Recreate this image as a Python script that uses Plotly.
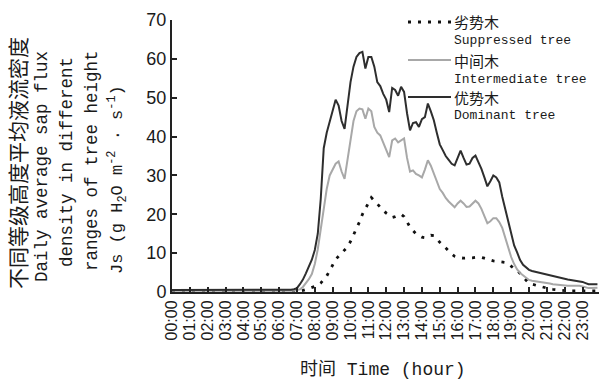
import plotly.graph_objects as go

# ---------------- data (10-min sampling, 144 points per series) ----------------
hour_labels = ["00:00", "01:00", "02:00", "03:00", "04:00", "05:00", "06:00", "07:00",
               "08:00", "09:00", "10:00", "11:00", "12:00", "13:00", "14:00", "15:00",
               "16:00", "17:00", "18:00", "19:00", "20:00", "21:00", "22:00", "23:00"]

dominant = [
    0.5, 0.5, 0.5, 0.5, 0.5, 0.5,   # 00
    0.5, 0.5, 0.5, 0.5, 0.5, 0.5,   # 01
    0.5, 0.5, 0.5, 0.5, 0.5, 0.5,   # 02
    0.5, 0.5, 0.5, 0.5, 0.5, 0.5,   # 03
    0.5, 0.5, 0.5, 0.5, 0.5, 0.5,   # 04
    0.5, 0.5, 0.5, 0.5, 0.5, 0.5,   # 05
    0.5, 0.5, 0.5, 0.5, 0.6, 0.7,   # 06
    1.0, 2.0, 3.2, 4.8, 6.5, 8.3,   # 07
    10.8, 15, 24, 37, 41, 44,       # 08
    47, 49.5, 48, 44, 42, 48,       # 09
    54, 58, 60.5, 61.5, 61.8, 57.5, # 10
    60.5, 60.5, 58, 54, 53, 51,     # 11
    49.5, 46.3, 52.5, 52, 50.5, 52.8,  # 12
    51.5, 46, 41.6, 43.5, 43.7, 42.5,  # 13
    44.5, 45, 48.5, 46.5, 44.2, 41,    # 14
    38, 36.5, 35, 34, 33, 32.6,        # 15
    34.5, 36.4, 34.5, 32.8, 33, 34.5,  # 16
    35.1, 33.5, 31.7, 29.5, 27.2, 28.5,  # 17
    30, 29.5, 28.2, 24.5, 21.5, 18.3,  # 18
    15, 12, 10.2, 8.2, 7, 6.4,         # 19
    5.7, 5.4, 5.2, 5.0, 4.9, 4.7,      # 20
    4.5, 4.2, 4.0, 3.8, 3.6, 3.4,      # 21
    3.3, 3.2, 3.1, 3.0, 2.9, 2.8,      # 22
    2.6, 2.3, 2.0, 2.0, 2.0, 2.0,      # 23
]

intermediate = [
    0.3, 0.3, 0.3, 0.3, 0.3, 0.3,   # 00
    0.3, 0.3, 0.3, 0.3, 0.3, 0.3,   # 01
    0.3, 0.3, 0.3, 0.3, 0.3, 0.3,   # 02
    0.3, 0.3, 0.3, 0.3, 0.3, 0.3,   # 03
    0.3, 0.3, 0.3, 0.3, 0.3, 0.3,   # 04
    0.3, 0.3, 0.3, 0.3, 0.3, 0.3,   # 05
    0.3, 0.3, 0.3, 0.3, 0.3, 0.3,   # 06
    0.5, 0.7, 1.3, 2.2, 3.3, 4.6,   # 07
    7.2, 11, 16, 21, 26.5, 30,      # 08
    31.5, 33, 33.6, 31, 29.1, 34,   # 09
    39.5, 44, 46.5, 47.2, 47, 44.6, # 10
    47.2, 46.5, 42.5, 41, 40.3, 38.5,  # 11
    36.5, 34.7, 39, 39.5, 38.5, 39,    # 12
    39.5, 34.5, 31, 31.3, 30.4, 30,    # 13
    29.5, 31.5, 33.9, 32.5, 30.4, 28.5,  # 14
    26.5, 25.5, 24.2, 23.3, 22.5, 21.8,  # 15
    22.8, 23.5, 22.8, 21.9, 22, 22.8,    # 16
    23.5, 22.8, 21.4, 19.5, 17.7, 18.2,  # 17
    19, 19, 18, 16.5, 14, 11.4,          # 18
    9, 7.2, 5.8, 4.9, 4.3, 3.8,          # 19
    3.1, 2.9, 2.8, 2.7, 2.6, 2.5,        # 20
    2.4, 2.2, 2.0, 1.9, 1.8, 1.7,        # 21
    1.6, 1.6, 1.6, 1.6, 1.6, 1.6,        # 22
    1.4, 1.2, 1.0, 1.0, 1.1, 1.1,        # 23
]

suppressed = [
    0.2, 0.2, 0.2, 0.2, 0.2, 0.2,   # 00
    0.2, 0.2, 0.2, 0.2, 0.2, 0.2,   # 01
    0.2, 0.2, 0.2, 0.2, 0.2, 0.2,   # 02
    0.2, 0.2, 0.2, 0.2, 0.2, 0.2,   # 03
    0.2, 0.2, 0.2, 0.2, 0.2, 0.2,   # 04
    0.2, 0.2, 0.2, 0.2, 0.2, 0.2,   # 05
    0.2, 0.2, 0.2, 0.2, 0.2, 0.2,   # 06
    0.2, 0.2, 0.4, 0.7, 0.9, 1.1,   # 07
    1.4, 1.7, 2.3, 3.2, 4.1, 5.5,   # 08
    7, 8.4, 9.2, 10, 10.8, 11.6,    # 09
    13, 14.6, 16, 18, 20, 21.5,     # 10
    23, 24.3, 23.5, 22.6, 21.7, 21, # 11
    20.3, 19.7, 19.2, 19.4, 19.8, 20,  # 12
    19.4, 18, 16.7, 15.8, 15, 14.5,    # 13
    14.1, 14, 14.3, 14.6, 14.5, 13.6,  # 14
    12.8, 12.1, 11.3, 10.5, 9.8, 9.2,  # 15
    8.9, 8.8, 8.7, 8.7, 8.7, 8.8,      # 16
    8.9, 8.9, 8.9, 8.7, 8.4, 8.2,      # 17
    8, 7.9, 7.8, 7.7, 7.6, 7.3,        # 18
    6.6, 6, 5.6, 4.8, 3.8, 3.0,        # 19
    2.2, 2.0, 1.8, 1.6, 1.4, 1.1,      # 20
    0.9, 0.8, 0.7, 0.6, 0.5, 0.5,      # 21
    0.4, 0.3, 0.3, 0.3, 0.3, 0.3,      # 22
    0.3, 0.3, 0.3, 0.3, 0.3, 0.3,      # 23
]

# sample times in hours (every 10 minutes)
times = [i / 6 for i in range(len(dominant))]

# ---------------- layout geometry ----------------
W_FIG, H_FIG = 603, 382
L, R, T, B = 172, 599, 20, 292
PW, PH = R - L, B - T


def px(x):
    return (x - L) / PW


def py(y):
    return (B - y) / PH


MONO = "Liberation Mono, DejaVu Sans Mono, Noto Sans CJK SC"
CJK = "Noto Sans CJK SC"
SANS = "Liberation Sans, Arial"
TXT = "#1a1a1a"
DOT = dict(color="#111111", width=2.8, dash="3px,7px")

fig = go.Figure()
fig.add_trace(go.Scatter(x=times, y=suppressed, mode="lines", line=DOT,
                         name="劣势木 Suppressed tree", showlegend=False))
fig.add_trace(go.Scatter(x=times, y=intermediate, mode="lines",
                         line=dict(color="#a8a8a8", width=2),
                         name="中间木 Intermediate tree", showlegend=False))
fig.add_trace(go.Scatter(x=times, y=dominant, mode="lines",
                         line=dict(color="#2e2e2e", width=2),
                         name="优势木 Dominant tree", showlegend=False))

fig.update_layout(
    width=W_FIG, height=H_FIG,
    margin=dict(l=L, r=W_FIG - R, t=T, b=H_FIG - B, pad=0),
    paper_bgcolor="white", plot_bgcolor="white",
    xaxis=dict(range=[0, 23.92], tickvals=list(range(24)), ticktext=hour_labels,
               tickangle=-90, ticks="inside", ticklen=5, tickwidth=1.5, tickcolor="#222",
               showline=True, linecolor="#222", linewidth=2, showgrid=False, zeroline=False,
               tickfont=dict(family=SANS, size=16, color=TXT)),
    yaxis=dict(range=[0, 70], dtick=10, ticks="inside", ticklen=5, tickwidth=1.5,
               tickcolor="#222", showline=True, linecolor="#222", linewidth=2,
               showgrid=False, zeroline=False,
               tickfont=dict(family=SANS, size=18, color=TXT)),
)

ann = []
# y-axis title lines (rotated)
ytitle = [
    ("不同等级高度平均液流密度", 17, 163, CJK, 21),
    ("Daily average sap flux", 42, 167, MONO, 17.5),
    ("density in different", 67, 162, MONO, 17.5),
    ("ranges of tree height", 92, 161, MONO, 17.5),
    ("Js (g H<sub>2</sub>O m<sup>-2</sup> · s<sup>-1</sup>)", 117, 180, MONO, 17),
]
for text, cx, cy, fam, size in ytitle:
    ann.append(dict(text=text, x=px(cx), y=py(cy), xref="paper", yref="paper",
                    xanchor="center", yanchor="middle", textangle=-90, showarrow=False,
                    font=dict(family=fam, size=size, color=TXT)))
# x-axis title
ann.append(dict(text="时间 Time (hour)", x=px(383), y=py(369), xref="paper", yref="paper",
                xanchor="center", yanchor="middle", showarrow=False,
                font=dict(family=MONO, size=18, color=TXT)))

# custom legend
legend_items = [
    ("劣势木", "Suppressed tree", 22, DOT),
    ("中间木", "Intermediate tree", 60, dict(color="#a8a8a8", width=2)),
    ("优势木", "Dominant tree", 97, dict(color="#2e2e2e", width=2)),
]
shapes = []
for zh, en, yy, ln in legend_items:
    shapes.append(dict(type="line", xref="paper", yref="paper",
                       x0=px(408), x1=px(451), y0=py(yy), y1=py(yy), line=ln))
    ann.append(dict(text=zh, x=px(452), y=py(yy), xref="paper", yref="paper",
                    xanchor="left", yanchor="middle", showarrow=False,
                    font=dict(family=CJK, size=15, color=TXT)))
    ann.append(dict(text=en, x=px(452), y=py(yy + 19), xref="paper", yref="paper",
                    xanchor="left", yanchor="middle", showarrow=False,
                    font=dict(family=MONO, size=13, color=TXT)))

fig.update_layout(annotations=ann, shapes=shapes)
fig.write_html("out.html", config={"displayModeBar": False},
               post_script="document.body.style.margin='0';")
